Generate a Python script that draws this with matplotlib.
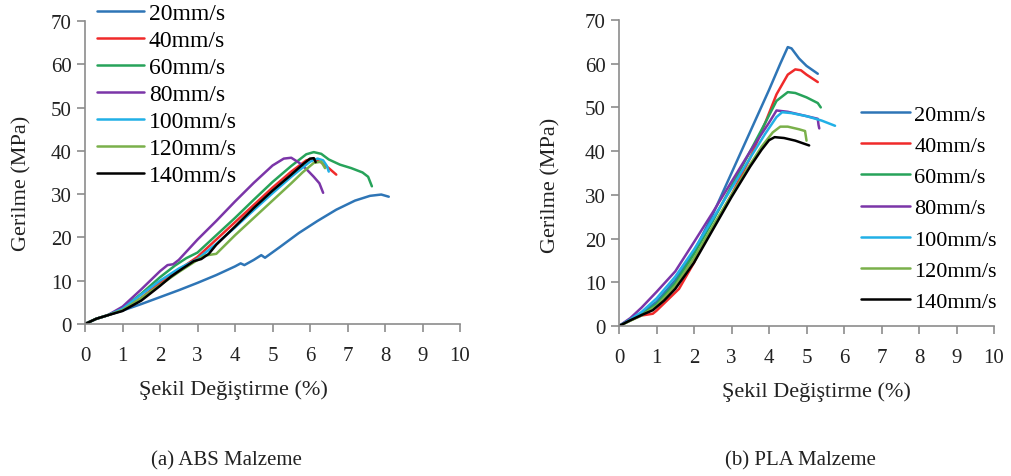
import matplotlib
matplotlib.use("Agg")
import matplotlib.pyplot as plt

plt.rcParams['font.family'] = ['Liberation Serif', 'DejaVu Serif']

# Etiketler ve renkler
hizlar = ["20mm/s", "40mm/s", "60mm/s", "80mm/s", "100mm/s", "120mm/s", "140mm/s"]
renkler = ["#2e75b6", "#f02a2a", "#27a35a", "#7b35a8", "#21b0e6", "#7ab04a", "#000000"]

# (a) ABS malzeme - şekil değiştirme (%) / gerilme (MPa)
abs_20_x = [0, 0.3, 0.6, 1.0, 1.5, 2.0, 2.5, 3.0, 3.5, 4.0, 4.15, 4.25, 4.5, 4.7, 4.8, 5.2, 5.7, 6.2, 6.7, 7.2, 7.6, 7.9, 8.1]
abs_20_y = [0, 1.2, 2.0, 3.1, 4.6, 6.2, 7.8, 9.5, 11.3, 13.3, 14.0, 13.6, 14.8, 15.9, 15.3, 17.8, 21.0, 23.8, 26.4, 28.5, 29.6, 29.9, 29.4]
abs_40_x = [0, 0.3, 0.6, 1.0, 1.5, 2.0, 2.5, 3.0, 3.5, 4.0, 4.5, 5.0, 5.5, 5.9, 6.1, 6.3, 6.5, 6.7]
abs_40_y = [0, 1.2, 2.0, 3.3, 6.0, 9.5, 12.5, 15.5, 19.5, 23.5, 27.5, 31.5, 35.2, 37.8, 38.2, 37.3, 36.0, 34.5]
abs_60_x = [0, 0.3, 0.6, 1.0, 1.5, 2.0, 2.4, 2.7, 3.0, 3.5, 4.0, 4.5, 5.0, 5.5, 5.9, 6.1, 6.3, 6.5, 6.8, 7.1, 7.4, 7.55, 7.65]
abs_60_y = [0, 1.2, 2.0, 3.6, 7.0, 10.8, 13.5, 15.2, 16.5, 20.5, 24.5, 28.7, 32.8, 36.5, 39.2, 39.7, 39.3, 38.0, 36.8, 36.0, 35.0, 34.0, 31.8]
abs_80_x = [0, 0.3, 0.6, 1.0, 1.5, 2.0, 2.2, 2.35, 2.5, 3.0, 3.5, 4.0, 4.5, 5.0, 5.3, 5.5, 5.7, 5.9, 6.1, 6.25, 6.35]
abs_80_y = [0, 1.2, 2.0, 4.0, 8.0, 12.2, 13.6, 13.8, 14.8, 19.5, 23.8, 28.3, 32.6, 36.6, 38.2, 38.4, 37.3, 35.8, 34.0, 32.5, 30.3]
abs_100_x = [0, 0.3, 0.6, 1.0, 1.5, 2.0, 2.5, 3.0, 3.5, 4.0, 4.5, 5.0, 5.5, 6.0, 6.2, 6.35, 6.45, 6.5]
abs_100_y = [0, 1.2, 2.0, 3.5, 6.8, 10.0, 12.8, 15.0, 18.5, 22.3, 26.3, 30.2, 34.0, 37.5, 38.2, 37.8, 36.5, 35.2]
abs_120_x = [0, 0.3, 0.6, 1.0, 1.5, 2.0, 2.5, 3.0, 3.2, 3.5, 4.0, 4.5, 5.0, 5.5, 5.8, 6.1, 6.3, 6.4]
abs_120_y = [0, 1.2, 2.0, 3.2, 6.0, 9.0, 12.0, 14.8, 15.8, 16.2, 20.5, 24.5, 28.5, 32.5, 35.0, 37.2, 37.5, 36.0]
abs_140_x = [0, 0.3, 0.6, 1.0, 1.5, 2.0, 2.3, 2.6, 2.9, 3.1, 3.3, 3.5, 4.0, 4.5, 5.0, 5.5, 5.8, 6.0, 6.1, 6.15]
abs_140_y = [0, 1.2, 2.0, 3.0, 5.4, 8.8, 11.0, 12.8, 14.5, 15.0, 16.2, 18.3, 22.5, 26.8, 30.8, 34.5, 36.8, 38.2, 38.3, 37.4]

# (b) PLA malzeme
pla_20_x = [0, 0.3, 0.6, 1.0, 1.5, 2.0, 2.5, 3.0, 3.5, 4.0, 4.3, 4.5, 4.6, 4.8, 5.0, 5.3]
pla_20_y = [0, 1.5, 3.0, 5.5, 10.5, 17.0, 25.5, 35.0, 44.5, 54.0, 60.0, 63.8, 63.5, 61.2, 59.5, 57.7]
pla_40_x = [0, 0.3, 0.6, 0.9, 1.0, 1.3, 1.6, 2.0, 2.25, 2.5, 3.0, 3.5, 3.9, 4.2, 4.5, 4.7, 4.85, 5.0, 5.3]
pla_40_y = [0, 1.3, 2.4, 2.8, 3.5, 6.0, 8.5, 14.5, 19.0, 22.5, 30.0, 38.5, 46.5, 53.0, 57.5, 58.7, 58.5, 57.5, 55.8]
pla_60_x = [0, 0.3, 0.6, 1.0, 1.5, 2.0, 2.5, 3.0, 3.5, 3.9, 4.2, 4.5, 4.7, 5.0, 5.3, 5.38]
pla_60_y = [0, 1.3, 2.6, 5.0, 9.8, 16.5, 24.0, 32.0, 40.0, 46.5, 51.5, 53.5, 53.3, 52.3, 51.0, 50.0]
pla_80_x = [0, 0.3, 0.6, 1.0, 1.5, 2.0, 2.5, 3.0, 3.5, 4.0, 4.2, 4.5, 5.0, 5.3, 5.32, 5.34]
pla_80_y = [0, 1.8, 4.2, 7.8, 12.5, 19.2, 26.0, 33.0, 40.0, 46.5, 49.3, 49.0, 48.0, 47.4, 46.0, 45.2]
pla_100_x = [0, 0.3, 0.6, 1.0, 1.5, 2.0, 2.5, 3.0, 3.5, 3.9, 4.2, 4.35, 4.6, 5.0, 5.4, 5.76]
pla_100_y = [0, 1.5, 3.2, 6.3, 11.3, 17.5, 24.5, 31.5, 38.5, 44.0, 47.8, 48.9, 48.7, 48.0, 47.0, 45.8]
pla_120_x = [0, 0.3, 0.6, 1.0, 1.5, 2.0, 2.5, 3.0, 3.5, 3.8, 4.1, 4.3, 4.5, 4.8, 4.96, 5.0]
pla_120_y = [0, 1.2, 2.4, 4.6, 9.2, 15.5, 22.8, 30.0, 37.0, 41.0, 44.3, 45.6, 45.6, 45.0, 44.6, 42.4]
pla_140_x = [0, 0.3, 0.6, 0.9, 1.2, 1.5, 2.0, 2.5, 3.0, 3.5, 3.8, 4.0, 4.15, 4.4, 4.7, 5.07]
pla_140_y = [0, 1.3, 2.5, 3.6, 5.8, 8.5, 14.5, 22.0, 29.5, 36.5, 40.3, 42.5, 43.2, 43.0, 42.4, 41.3]

abs_seriler = [(abs_20_x, abs_20_y), (abs_40_x, abs_40_y), (abs_60_x, abs_60_y), (abs_80_x, abs_80_y),
               (abs_100_x, abs_100_y), (abs_120_x, abs_120_y), (abs_140_x, abs_140_y)]
pla_seriler = [(pla_20_x, pla_20_y), (pla_40_x, pla_40_y), (pla_60_x, pla_60_y), (pla_80_x, pla_80_y),
               (pla_100_x, pla_100_y), (pla_120_x, pla_120_y), (pla_140_x, pla_140_y)]

fig = plt.figure(figsize=(10.11, 4.77), dpi=100)
ax1 = fig.add_axes([0.0841, 0.3187, 0.3709, 0.6353])
ax2 = fig.add_axes([0.6123, 0.3145, 0.3709, 0.6415])

def eksen_ayarla(ax):
    ax.set_xlim(0, 10)
    ax.set_ylim(0, 70)
    ax.set_xticks(range(0, 11))
    ax.set_yticks(range(0, 71, 10))
    for s in ["top", "right"]:
        ax.spines[s].set_visible(False)
    for s in ["left", "bottom"]:
        ax.spines[s].set_color("#8c8c8c")
        ax.spines[s].set_linewidth(1.2)
    ax.tick_params(direction="out", length=6, width=1.2, color="#8c8c8c",
                   labelsize=15, labelcolor="#222222")
    ax.tick_params(axis="x", pad=10)

for ax, seriler in [(ax1, abs_seriler), (ax2, pla_seriler)]:
    for (x, y), renk, etiket in zip(seriler, renkler, hizlar):
        ax.plot(x, y, color=renk, lw=1.8, label=etiket, solid_capstyle="round")
    eksen_ayarla(ax)

ax1.legend(loc="upper left", bbox_to_anchor=(0.032, 1.06), frameon=False, fontsize=17,
           handlelength=2.0, handletextpad=0.2, labelspacing=0.23, borderpad=0, borderaxespad=0)
ax2.legend(loc="upper left", bbox_to_anchor=(0.645, 0.725), frameon=False, fontsize=16,
           handlelength=2.2, handletextpad=0.2, labelspacing=0.48, borderpad=0, borderaxespad=0)

# Eksen başlıkları ve alt yazılar
fig.text(233 / 1011, 1 - 390 / 477, "Şekil Değiştirme (%)", ha="center", va="center", fontsize=16, color="#222222")
fig.text(816 / 1011, 1 - 392 / 477, "Şekil Değiştirme (%)", ha="center", va="center", fontsize=16, color="#222222")
fig.text(22 / 1011, 1 - 183 / 477, "Gerilme (MPa)", ha="center", va="center", rotation=90, fontsize=16, color="#222222")
fig.text(551 / 1011, 1 - 185 / 477, "Gerilme (MPa)", ha="center", va="center", rotation=90, fontsize=16, color="#222222")
fig.text(226 / 1011, 1 - 461 / 477, "(a) ABS Malzeme", ha="center", va="center", fontsize=15, color="#222222")
fig.text(800 / 1011, 1 - 461 / 477, "(b) PLA Malzeme", ha="center", va="center", fontsize=15, color="#222222")

fig.savefig("out.png", dpi=100)
